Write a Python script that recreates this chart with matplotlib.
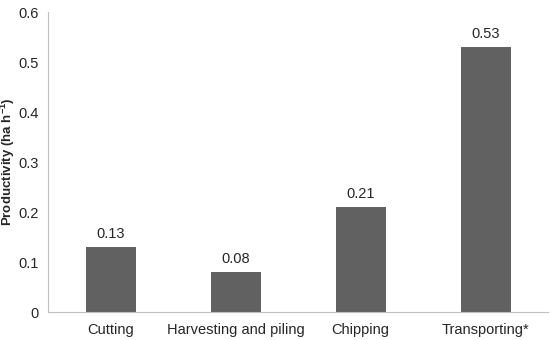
import numpy as np
import matplotlib
matplotlib.use('Agg')
import matplotlib.pyplot as plt

plt.rcParams['font.family'] = ['Liberation Sans', 'DejaVu Sans']
plt.rcParams['mathtext.fontset'] = 'custom'
plt.rcParams['mathtext.rm'] = 'Liberation Sans'
plt.rcParams['mathtext.bf'] = 'Liberation Sans:bold'

operations = ['Cutting', 'Harvesting and piling', 'Chipping', 'Transporting*']
productivity = [0.13, 0.08, 0.21, 0.53]
labels = ['0.13', '0.08', '0.21', '0.53']

fig = plt.figure(figsize=(5.5, 3.4), dpi=100)
ax = fig.add_axes([48/550, 28/340, 500/550, 300/340])

x = np.arange(len(operations))
bars = ax.bar(x, productivity, width=0.4, color='#616161')
for b, lab in zip(bars, labels):
    ax.text(b.get_x() + b.get_width()/2, b.get_height() + 0.012, lab,
            ha='center', va='bottom', fontsize=10.5, color='#262626')

ax.set_xlim(-0.5, 3.5)
ax.set_ylim(0, 0.6)
ax.set_yticks([0, 0.1, 0.2, 0.3, 0.4, 0.5, 0.6])
ax.set_yticklabels(['0', '0.1', '0.2', '0.3', '0.4', '0.5', '0.6'])
ax.set_xticks(x)
ax.set_xticklabels(operations)
ax.tick_params(length=0, labelsize=10.5, colors='#262626', pad=8)
ax.tick_params(axis='y', pad=7)

for s in ['top', 'right']:
    ax.spines[s].set_visible(False)
for s in ['left', 'bottom']:
    ax.spines[s].set_color('#bfbfbf')

ax.set_ylabel('Productivity (ha h$^{\\mathbf{-1}}$)', fontsize=9.5, fontweight='bold',
              color='#262626')
ax.yaxis.label.set_va('center')
ax.yaxis.set_label_coords(-40/500, 0.5)

plt.savefig('out.png', dpi=100)
